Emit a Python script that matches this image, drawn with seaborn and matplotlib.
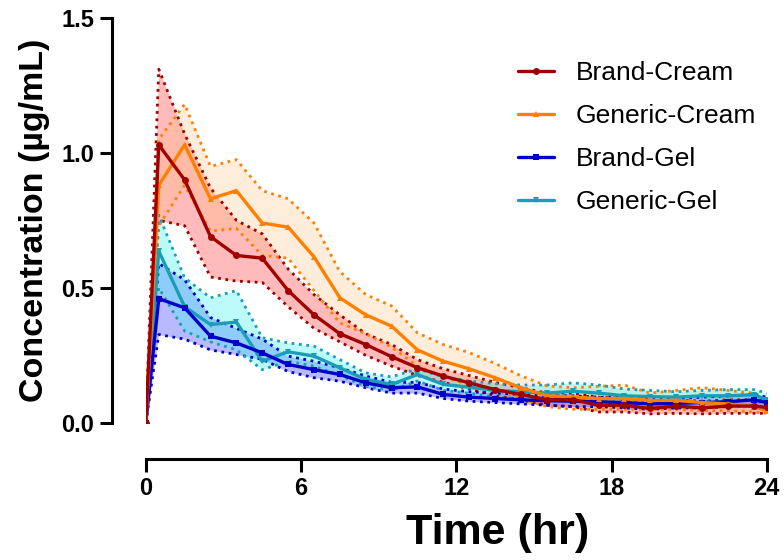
import matplotlib
matplotlib.use("Agg")
import matplotlib.pyplot as plt
import pandas as pd
import seaborn as sns

# sampling times (hr)
time = [0, 0.5, 1.5, 2.5, 3.5, 4.5, 5.5, 6.5, 7.5, 8.5, 9.5, 10.5, 11.5,
        12.5, 13.5, 14.5, 15.5, 16.5, 17.5, 18.5, 19.5, 20.5, 21.5, 22.5, 23.5, 24]

brand_cream = [0, 1.03, 0.90, 0.69, 0.62, 0.61, 0.49, 0.40, 0.33, 0.29, 0.245, 0.204, 0.173,
               0.148, 0.123, 0.105, 0.086, 0.086, 0.065, 0.065, 0.053, 0.062, 0.055, 0.062, 0.062, 0.057]
brand_cream_hi = [0, 1.31, 1.07, 0.87, 0.75, 0.70, 0.57, 0.475, 0.40, 0.33, 0.29, 0.234, 0.20,
                  0.175, 0.15, 0.13, 0.11, 0.11, 0.095, 0.09, 0.075, 0.085, 0.08, 0.085, 0.085, 0.08]
brand_cream_lo = [0, 0.75, 0.73, 0.54, 0.525, 0.52, 0.43, 0.35, 0.30, 0.25, 0.21, 0.175, 0.15,
                  0.125, 0.10, 0.085, 0.065, 0.06, 0.04, 0.04, 0.033, 0.035, 0.033, 0.035, 0.035, 0.035]

generic_cream = [0, 0.88, 1.03, 0.83, 0.86, 0.74, 0.725, 0.615, 0.463, 0.40, 0.358, 0.27, 0.228,
                 0.20, 0.167, 0.13, 0.10, 0.095, 0.09, 0.09, 0.083, 0.083, 0.075, 0.07, 0.06, 0.045]
generic_cream_hi = [0, 1.05, 1.18, 0.95, 0.975, 0.86, 0.83, 0.74, 0.56, 0.475, 0.433, 0.333, 0.29,
                    0.26, 0.22, 0.174, 0.137, 0.13, 0.135, 0.14, 0.11, 0.12, 0.13, 0.12, 0.11, 0.09]
generic_cream_lo = [0, 0.73, 0.88, 0.71, 0.72, 0.62, 0.61, 0.49, 0.37, 0.33, 0.28, 0.21, 0.17,
                    0.14, 0.12, 0.09, 0.06, 0.05, 0.05, 0.05, 0.05, 0.05, 0.045, 0.045, 0.04, 0.035]

brand_gel = [0, 0.46, 0.426, 0.321, 0.296, 0.259, 0.216, 0.197, 0.179, 0.148, 0.13, 0.133, 0.105,
             0.095, 0.09, 0.085, 0.082, 0.08, 0.078, 0.075, 0.07, 0.072, 0.075, 0.078, 0.085, 0.075]
brand_gel_hi = [0, 0.59, 0.53, 0.39, 0.35, 0.31, 0.247, 0.228, 0.204, 0.173, 0.15, 0.15, 0.125,
                0.115, 0.11, 0.105, 0.10, 0.10, 0.095, 0.095, 0.09, 0.09, 0.095, 0.10, 0.105, 0.095]
brand_gel_lo = [0, 0.327, 0.31, 0.27, 0.253, 0.235, 0.19, 0.167, 0.154, 0.13, 0.11, 0.11, 0.09,
                0.08, 0.075, 0.07, 0.065, 0.06, 0.06, 0.055, 0.05, 0.055, 0.055, 0.06, 0.065, 0.055]

generic_gel = [0, 0.636, 0.43, 0.364, 0.373, 0.228, 0.263, 0.247, 0.204, 0.16, 0.142, 0.179, 0.142,
               0.132, 0.12, 0.115, 0.11, 0.117, 0.11, 0.10, 0.097, 0.095, 0.10, 0.10, 0.104, 0.086]
generic_gel_hi = [0, 0.77, 0.537, 0.463, 0.49, 0.315, 0.296, 0.284, 0.234, 0.185, 0.17, 0.20, 0.17,
                  0.155, 0.145, 0.14, 0.14, 0.148, 0.14, 0.125, 0.12, 0.115, 0.12, 0.123, 0.123, 0.11]
generic_gel_lo = [0, 0.50, 0.34, 0.30, 0.27, 0.197, 0.228, 0.21, 0.175, 0.135, 0.12, 0.155, 0.12,
                  0.11, 0.095, 0.09, 0.085, 0.09, 0.085, 0.075, 0.075, 0.075, 0.08, 0.08, 0.085, 0.065]

series = [
    # name, mean, lo, hi, line colour, fill colour, fill alpha, marker
    ("Brand-Cream", brand_cream, brand_cream_lo, brand_cream_hi, "#A00000", "#FF6A6A", 0.45, "o"),
    ("Generic-Cream", generic_cream, generic_cream_lo, generic_cream_hi, "#FF8000", "#FFB870", 0.25, "^"),
    ("Brand-Gel", brand_gel, brand_gel_lo, brand_gel_hi, "#0000C8", "#4848FF", 0.38, "s"),
    ("Generic-Gel", generic_gel, generic_gel_lo, generic_gel_hi, "#1A9EB8", "#40F0F0", 0.35, "v"),
]

sns.set_style("ticks")
plt.rcParams['font.family'] = ['Liberation Sans', 'DejaVu Sans']
plt.rcParams.update({'text.color': 'black', 'axes.labelcolor': 'black',
                     'xtick.color': 'black', 'ytick.color': 'black'})

fig = plt.figure(figsize=(7.84, 5.6), dpi=100)
ax = fig.add_axes([0.186, 0.245, 0.792, 0.723])

for name, mean, lo, hi, col, fcol, alpha, mk in series:
    ax.fill_between(time, lo, hi, color=fcol, alpha=alpha, linewidth=0, zorder=1)
    sns.lineplot(x=time, y=hi, ax=ax, color=col, linestyle=":", linewidth=2, zorder=2)
    sns.lineplot(x=time, y=lo, ax=ax, color=col, linestyle=":", linewidth=2, zorder=2)

for name, mean, lo, hi, col, fcol, alpha, mk in reversed(series):
    sns.lineplot(x=time, y=mean, ax=ax, color=col, linewidth=2.4, marker=mk,
                 markersize=5, markeredgewidth=0, label=name, zorder=3)

ax.set_xlim(0, 24)
ax.set_ylim(0, 1.5)
ax.set_xticks([0, 6, 12, 18, 24])
ax.set_yticks([0.0, 0.5, 1.0, 1.5])
ax.set_yticklabels(["0.0", "0.5", "1.0", "1.5"])

sns.despine(ax=ax, offset={'left': 24, 'bottom': 26})
for s in ["left", "bottom"]:
    ax.spines[s].set_linewidth(2.2)
    ax.spines[s].set_color("black")
ax.tick_params(width=2.2, length=9, labelsize=17, color="black", pad=4)
for lab in ax.get_xticklabels() + ax.get_yticklabels():
    lab.set_fontweight("bold")

ax.set_xlabel("Time (hr)", fontsize=31, fontweight="bold")
ax.xaxis.set_label_coords(0.567, -0.222)
ax.set_ylabel("Concentration (\u00b5g/mL)", fontsize=24.5, fontweight="bold")
ax.yaxis.set_label_coords(-0.155, 0.50)

handles, labels = ax.get_legend_handles_labels()
order = ["Brand-Cream", "Generic-Cream", "Brand-Gel", "Generic-Gel"]
hmap = dict(zip(labels, handles))
ax.legend([hmap[k] for k in order], order, loc="upper left",
          bbox_to_anchor=(518 / 784, 1 - 61 / 560), bbox_transform=fig.transFigure,
          borderaxespad=0, borderpad=0, frameon=False, fontsize=19,
          handlelength=1.35, labelspacing=0.72, handletextpad=0.85)

fig.savefig("out.png", dpi=100)
